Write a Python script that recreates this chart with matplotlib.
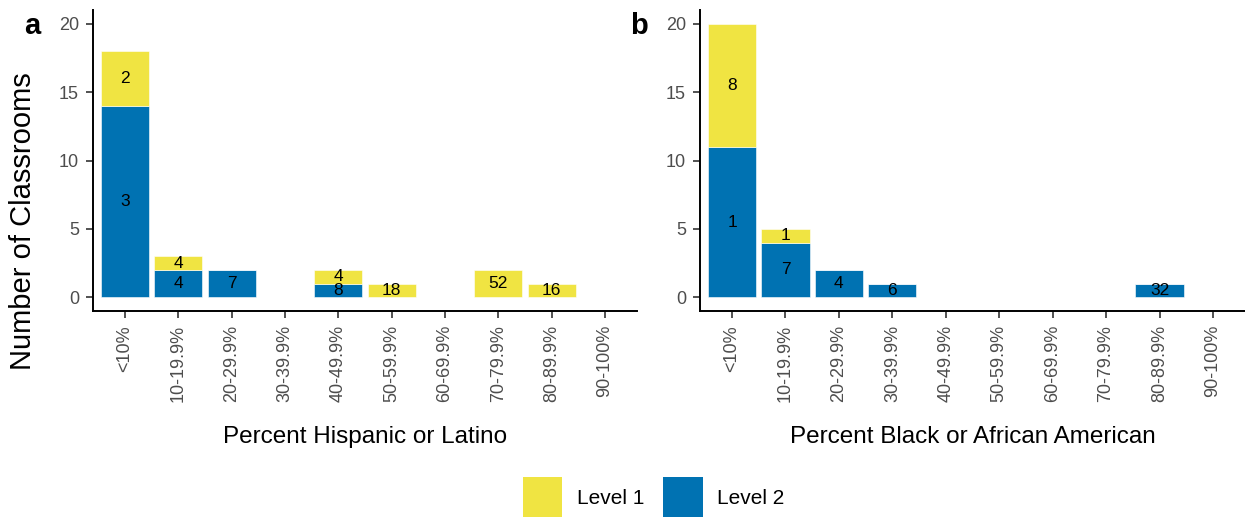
import matplotlib
matplotlib.use("Agg")
import matplotlib.pyplot as plt
from matplotlib.patches import Patch
import numpy as np

plt.rcParams['font.family'] = ['Liberation Sans', 'DejaVu Sans']

categories = ["<10%", "10-19.9%", "20-29.9%", "30-39.9%", "40-49.9%",
              "50-59.9%", "60-69.9%", "70-79.9%", "80-89.9%", "90-100%"]

# Panel a: Percent Hispanic or Latino
hisp_level2 = [14, 2, 2, 0, 1, 0, 0, 0, 0, 0]
hisp_level1 = [4, 1, 0, 0, 1, 1, 0, 2, 1, 0]
hisp_level2_labels = ["3", "4", "7", "", "8", "", "", "", "", ""]
hisp_level1_labels = ["2", "4", "", "", "4", "18", "", "52", "16", ""]

# Panel b: Percent Black or African American
black_level2 = [11, 4, 2, 1, 0, 0, 0, 0, 1, 0]
black_level1 = [9, 1, 0, 0, 0, 0, 0, 0, 0, 0]
black_level2_labels = ["1", "7", "4", "6", "", "", "", "", "32", ""]
black_level1_labels = ["8", "1", "", "", "", "", "", "", "", ""]

yellow = "#F0E442"
blue = "#0072B2"

W, H = 1245, 518
fig = plt.figure(figsize=(W / 100, H / 100), dpi=100)

def px_axes(x0, x1, y0, y1):
    return fig.add_axes([x0 / W, 1 - y1 / H, (x1 - x0) / W, (y1 - y0) / H])

ax_a = px_axes(93, 637, 10, 311)
ax_b = px_axes(700, 1245, 10, 311)

def draw(ax, l2, l1, lab2, lab1, xlabel, letter):
    x = np.arange(len(categories))
    l2 = np.array(l2)
    l1 = np.array(l1)
    ax.bar(x, l2, width=0.9, color=blue, edgecolor="white", linewidth=0.4)
    ax.bar(x, l1, bottom=l2, width=0.9, color=yellow, edgecolor="white", linewidth=0.4)
    for i in range(len(categories)):
        if lab2[i] and l2[i] > 0:
            ax.text(x[i], l2[i] / 2, lab2[i], ha="center", va="center",
                    fontsize=12.5, color="black")
        if lab1[i] and l1[i] > 0:
            ax.text(x[i], l2[i] + l1[i] / 2, lab1[i], ha="center", va="center",
                    fontsize=12.5, color="black")
    ax.set_xlim(-0.6, len(categories) - 0.4)
    ax.set_ylim(-1, 21)
    ax.set_yticks([0, 5, 10, 15, 20])
    ax.set_xticks(x)
    ax.set_xticklabels(categories, rotation=90)
    for s in ["top", "right"]:
        ax.spines[s].set_visible(False)
    for s in ["left", "bottom"]:
        ax.spines[s].set_linewidth(1.4)
        ax.spines[s].set_color("black")
    ax.tick_params(axis="both", length=5, width=1.2, color="#333333",
                   labelsize=13, labelcolor="#4D4D4D", pad=5)
    ax.set_xlabel(xlabel, fontsize=17.5, color="black", labelpad=17)
    fig.text((ax.get_position().x0 * W - 61) / W, 1 - 34 / H, letter,
             fontsize=21, fontweight="bold", ha="center", va="baseline")

draw(ax_a, hisp_level2, hisp_level1, hisp_level2_labels, hisp_level1_labels,
     "Percent Hispanic or Latino", "a")
draw(ax_b, black_level2, black_level1, black_level2_labels, black_level1_labels,
     "Percent Black or African American", "b")

fig.text(23 / W, 1 - 221 / H, "Number of Classrooms", rotation=90,
         fontsize=21, ha="center", va="center", color="black")

handles = [Patch(facecolor=yellow, edgecolor="none", label="Level 1"),
           Patch(facecolor=blue, edgecolor="none", label="Level 2")]
fig.legend(handles=handles, loc="lower center", bbox_to_anchor=(0.525, -0.035),
           ncol=2, frameon=False, fontsize=15, handlelength=1.9,
           handleheight=2.6, handletextpad=0.7, columnspacing=0.9)

fig.savefig("out.png", dpi=100)
